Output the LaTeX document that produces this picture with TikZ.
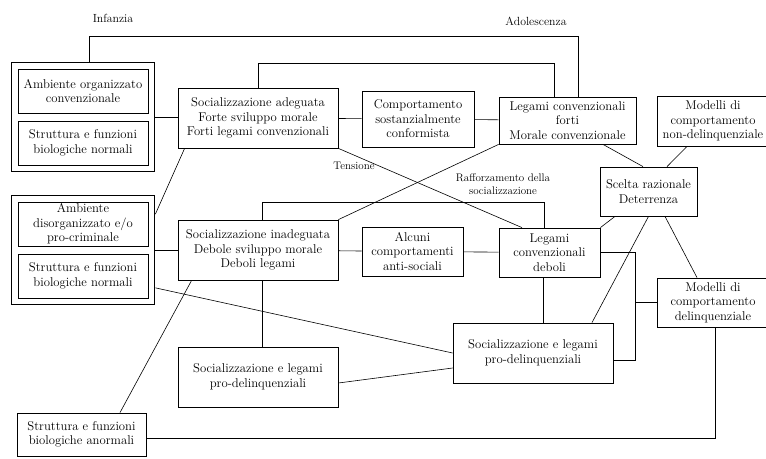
\documentclass[tikz,border=0pt]{standalone}
\usetikzlibrary{fit}
\tikzset{
    box/.style={draw, line width=0.8pt, align=center, inner sep=1pt,
        font=\fontsize{12.7}{14.5}\selectfont},
    grp/.style={draw, line width=0.9pt, inner sep=6.5pt},
    lbl/.style={align=center, font=\fontsize{11}{13}\selectfont}
}
\begin{document}
\begin{tikzpicture}[x=1pt, y=-1pt, line width=0.6pt]
    \useasboundingbox (0,0) rectangle (766,458);
    % periodi
    \node[lbl, font=\fontsize{11.8}{13}\selectfont] (infanzia) at (113,18) {Infanzia};
    \node[lbl, font=\fontsize{11.8}{13}\selectfont] (adolescenza) at (536,21) {Adolescenza};
    % fattori di partenza
    \node[box, minimum width=130pt, minimum height=44pt] (amborg) at (83,91) {Ambiente organizzato\\convenzionale};
    \node[box, minimum width=130pt, minimum height=44pt] (strnorm1) at (83,143) {Struttura e funzioni\\biologiche normali};
    \node[grp, fit=(amborg)(strnorm1)] (grp1) {};
    \node[box, minimum width=130pt, minimum height=44pt] (ambdis) at (83,224) {Ambiente\\disorganizzato e/o\\pro-criminale};
    \node[box, minimum width=130pt, minimum height=44pt] (strnorm2) at (83,276) {Struttura e funzioni\\biologiche normali};
    \node[grp, fit=(ambdis)(strnorm2)] (grp2) {};
    \node[box, minimum width=129pt, minimum height=43pt] (stranorm) at (81.5,434.5) {Struttura e funzioni\\biologiche anormali};
    % infanzia
    \node[box, minimum width=160pt, minimum height=60pt] (socad) at (258,118) {Socializzazione adeguata\\Forte sviluppo morale\\Forti legami convenzionali};
    \node[box, minimum width=160pt, minimum height=60pt] (socinad) at (258,250) {Socializzazione inadeguata\\Debole sviluppo morale\\Deboli legami};
    \node[box, minimum width=160pt, minimum height=60pt] (prodel1) at (258,377) {Socializzazione e legami\\pro-delinquenziali};
    % adolescenza
    \node[box, minimum width=112pt, minimum height=56pt] (comport) at (418,119) {Comportamento\\sostanzialmente\\conformista};
    \node[box, minimum width=137pt, minimum height=47pt] (legforti) at (567.5,120.5) {Legami convenzionali\\forti\\Morale convenzionale};
    \node[box, minimum width=112pt, minimum height=50pt] (nondel) at (713,121) {Modelli di\\comportamento\\non-delinquenziale};
    \node[box, minimum width=97pt, minimum height=49pt] (scelta) at (648.5,191.5) {Scelta razionale\\Deterrenza};
    \node[box, minimum width=101pt, minimum height=49pt] (alcuni) at (412.5,251.5) {Alcuni\\comportamenti\\anti-sociali};
    \node[box, minimum width=101pt, minimum height=49pt] (legdeb) at (549.5,252.5) {Legami\\convenzionali\\deboli};
    \node[box, minimum width=112pt, minimum height=49pt] (modeldel) at (713,302.5) {Modelli di\\comportamento\\delinquenziale};
    \node[box, minimum width=160pt, minimum height=60pt] (prodel2) at (533,353) {Socializzazione e legami\\pro-delinquenziali};
    % etichette
    \node[lbl] (tensione) at (354,166) {Tensione};
    \node[lbl] (rafforzamento) at (503,184) {Rafforzamento della\\socializzazione};
    % collegamenti
    \draw ([xshift=6pt]grp1.north) -- ++(0,-25) -| ([xshift=10.5pt]legforti.north);
    \draw (socad.north) -- ++(0,-24) -| ([xshift=-13.5pt]legforti.north);
    \draw (grp1.east) -- (grp1.east -| socad.west);
    \draw (socad) -- (comport) -- (legforti);
    \draw (socad.south east) -- ([xshift=-27.5pt]legdeb.north);
    \draw (legforti.south west) -- (socinad.north east);
    \draw ([xshift=4pt]socinad.north) -- ++(0,-17) -| ([xshift=-5.5pt]legdeb.north);
    \draw ([xshift=7pt]socad.south west) -- ([yshift=-19.5pt]grp2.north east);
    \draw (grp2.east) -- (grp2.east -| socinad.west);
    \draw ([yshift=17.5pt]grp2.south east) -- (prodel2.west);
    \draw ([yshift=-6pt]prodel1.east) -- ([yshift=-15pt]prodel2.west);
    \draw ([xshift=4pt]socinad.south) -- ([xshift=4pt]prodel1.north);
    \draw ([xshift=38.5pt]stranorm.north) -- ([xshift=14pt]socinad.south west);
    \draw ([yshift=-4pt]stranorm.east) -| ([xshift=2pt]modeldel.south);
    \draw (socinad) -- (alcuni) -- (legdeb);
    \draw ([xshift=-6.5pt]legdeb.south) -- ([xshift=-6.5pt]legdeb.south |- prodel2.north);
    \draw (legdeb.east) -- ++(35,0) |- ([yshift=-7pt]prodel2.east);
    \draw (modeldel.west) -- ++(-22,0);
    \draw ([xshift=35.5pt]legforti.south) -- ([xshift=-5.5pt]scelta.north);
    \draw ([xshift=-26pt]nondel.south) -- ([xshift=18.5pt]scelta.north);
    \draw ([xshift=-33.5pt]scelta.south) -- (legdeb.north east);
    \draw (scelta.south) -- ([xshift=59pt]prodel2.north);
    \draw ([xshift=16.5pt]scelta.south) -- ([xshift=-16pt]modeldel.north);
\end{tikzpicture}
\end{document}
